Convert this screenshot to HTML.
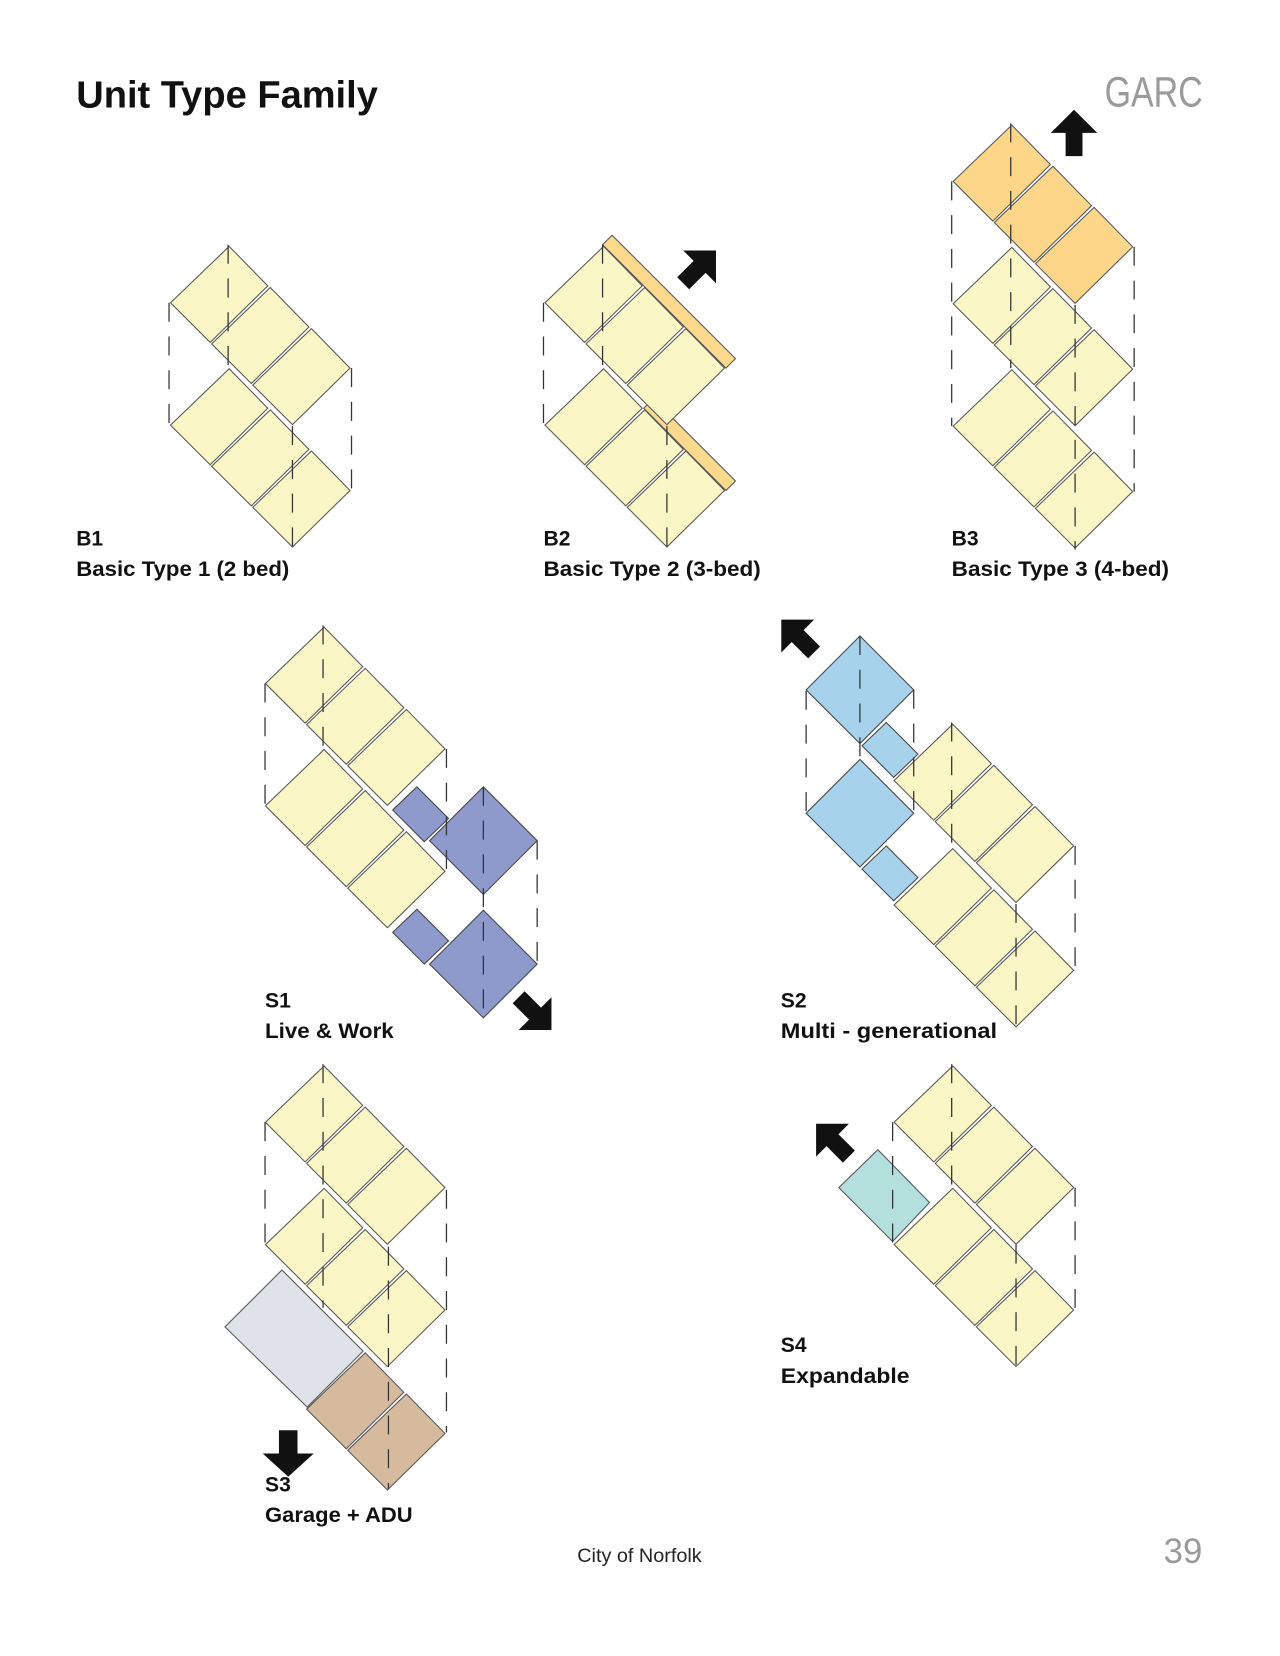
<!DOCTYPE html>
<html><head><meta charset="utf-8"><style>
html,body{margin:0;padding:0;background:#fff;}
svg{display:block;}
text{font-family:"Liberation Sans",sans-serif;}
</style></head><body>
<svg width="1280" height="1656" viewBox="0 0 1213 1570" xmlns="http://www.w3.org/2000/svg">
<defs>
<polygon id="r" points="1,1.6 37.6,39 -17,92.6 -54.6,55" stroke="#555" stroke-width="1"/>
<polygon id="big" points="0,0 51,51 0,102 -51,51" stroke="#444" stroke-width="1"/>
<polygon id="sm" points="0,0 30,30 7,52 -23,22" stroke="#444" stroke-width="1"/>
<polygon id="arr" points="0,-22 22,0 8,0 8,22 -8,22 -8,0 -22,0" fill="#111"/>
</defs>

<rect width="1213" height="1570" fill="#fff"/>

<text x="72" y="102" font-size="36" font-weight="bold" fill="#111" textLength="286" lengthAdjust="spacingAndGlyphs">Unit Type Family</text>
<text x="1047" y="101" font-size="40" fill="#9a9a9a" textLength="93" lengthAdjust="spacingAndGlyphs">GARC</text>

<!-- B1 -->
<g fill="#FBF6C6">
<use href="#r" x="216" y="348"/><use href="#r" x="255" y="387"/><use href="#r" x="294" y="426"/>
<use href="#r" x="216" y="232"/><use href="#r" x="255" y="271"/><use href="#r" x="294" y="310"/>
</g>
<g stroke="#333" stroke-width="1.2" stroke-dasharray="18,14" fill="none">
<line x1="160" y1="287" x2="160" y2="403"/><line x1="216" y1="232" x2="216" y2="348"/>
<line x1="333" y1="349" x2="333" y2="466"/><line x1="277" y1="404" x2="277" y2="520"/>
</g>

<!-- B2 -->
<g fill="#FDD98E" stroke="#555" stroke-width="1">
<polygon points="610,387 688,465 697,456 619,378"/>
</g>
<g fill="#FBF6C6">
<use href="#r" x="571" y="348"/><use href="#r" x="610" y="387"/><use href="#r" x="649" y="426"/>
</g>
<g fill="#FDD98E" stroke="#555" stroke-width="1">
<polygon points="571,232 688,349 697,340 580,223"/>
</g>
<g fill="#FBF6C6">
<use href="#r" x="571" y="232"/><use href="#r" x="610" y="271"/><use href="#r" x="649" y="310"/>
</g>
<g stroke="#333" stroke-width="1.2" stroke-dasharray="18,14" fill="none">
<line x1="515" y1="287" x2="515" y2="403"/><line x1="571" y1="232" x2="571" y2="348"/>
<line x1="632" y1="404" x2="632" y2="520"/>
</g>
<use href="#arr" transform="translate(663,253) rotate(45)"/>

<!-- B3 -->
<g fill="#FBF6C6">
<use href="#r" x="958" y="349"/><use href="#r" x="997" y="388"/><use href="#r" x="1036" y="427"/>
<use href="#r" x="958" y="233"/><use href="#r" x="997" y="272"/><use href="#r" x="1036" y="311"/>
</g>
<g fill="#FDD68A">
<use href="#r" x="958" y="117"/><use href="#r" x="997" y="156"/><use href="#r" x="1036" y="195"/>
</g>
<g stroke="#333" stroke-width="1.2" stroke-dasharray="18,14" fill="none">
<line x1="902" y1="172" x2="902" y2="404"/><line x1="958" y1="117" x2="958" y2="349"/>
<line x1="1075" y1="234" x2="1075" y2="466"/><line x1="1019" y1="289" x2="1019" y2="521"/>
</g>
<use href="#arr" transform="translate(1018,126)"/>

<g font-size="20" font-weight="bold" fill="#111">
<text x="72" y="517">B1</text><text x="72" y="546" textLength="202" lengthAdjust="spacingAndGlyphs">Basic Type 1 (2 bed)</text>
<text x="515" y="517">B2</text><text x="515" y="546" textLength="206" lengthAdjust="spacingAndGlyphs">Basic Type 2 (3-bed)</text>
<text x="902" y="517">B3</text><text x="902" y="546" textLength="206" lengthAdjust="spacingAndGlyphs">Basic Type 3 (4-bed)</text>
</g>

<!-- S1 -->
<g fill="#FBF6C6">
<use href="#r" x="306" y="709"/><use href="#r" x="345" y="748"/><use href="#r" x="384" y="787"/>
</g>
<g fill="#8E9ACB">
<use href="#big" x="458" y="746"/><use href="#big" x="458" y="863"/>
<use href="#sm" x="395" y="746"/><use href="#sm" x="395" y="862"/>
</g>
<g fill="#FBF6C6">
<use href="#r" x="306" y="593"/><use href="#r" x="345" y="632"/><use href="#r" x="384" y="671"/>
</g>
<g stroke="#333" stroke-width="1.2" stroke-dasharray="18,14" fill="none">
<line x1="251" y1="648" x2="251" y2="765"/><line x1="306" y1="593" x2="306" y2="709"/>
<line x1="423" y1="710" x2="423" y2="826"/><line x1="509" y1="797" x2="509" y2="914"/>
<line x1="458" y1="746" x2="458" y2="965"/>
</g>
<use href="#arr" transform="translate(507,961) rotate(135)"/>

<!-- S2 -->
<g fill="#FBF6C6">
<use href="#r" x="902" y="803"/><use href="#r" x="941" y="842"/><use href="#r" x="980" y="881"/>
<use href="#r" x="902" y="685"/><use href="#r" x="941" y="724"/><use href="#r" x="980" y="763"/>
</g>
<g fill="#A6D2EC">
<use href="#big" x="815" y="720"/><use href="#sm" x="840" y="802"/>
<use href="#big" x="815" y="603"/><use href="#sm" x="840" y="685"/>
</g>
<g stroke="#333" stroke-width="1.2" stroke-dasharray="18,14" fill="none">
<line x1="764" y1="655" x2="764" y2="772"/><line x1="815" y1="603" x2="815" y2="720"/>
<line x1="866" y1="654" x2="866" y2="771"/><line x1="902" y1="685" x2="902" y2="803"/>
<line x1="1019" y1="802" x2="1019" y2="920"/><line x1="963" y1="857" x2="963" y2="975"/>
</g>
<use href="#arr" transform="translate(756,603) rotate(-45)"/>

<g font-size="20" font-weight="bold" fill="#111">
<text x="251" y="955">S1</text><text x="251" y="984" textLength="122" lengthAdjust="spacingAndGlyphs">Live &amp; Work</text>
<text x="740" y="955">S2</text><text x="740" y="984" textLength="205" lengthAdjust="spacingAndGlyphs">Multi - generational</text>
</g>

<!-- S3 -->
<g fill="#FBF6C6">
<use href="#r" x="306" y="1125"/><use href="#r" x="345" y="1164"/><use href="#r" x="384" y="1203"/>
<use href="#r" x="306" y="1009"/><use href="#r" x="345" y="1048"/><use href="#r" x="384" y="1087"/>
</g>
<polygon points="267,1204 213,1258 291,1334 344,1281" fill="#DFE2E8" stroke="#555" stroke-width="1"/>
<g fill="#D5BA9E">
<use href="#r" x="345" y="1281"/><use href="#r" x="384" y="1320"/>
</g>
<g stroke="#333" stroke-width="1.2" stroke-dasharray="18,14" fill="none">
<line x1="251" y1="1064" x2="251" y2="1180"/><line x1="306" y1="1009" x2="306" y2="1240"/>
<line x1="423" y1="1128" x2="423" y2="1358"/><line x1="368" y1="1182" x2="368" y2="1412"/>
</g>
<use href="#arr" transform="translate(273,1378) rotate(180) scale(1.1,1)"/>

<!-- S4 -->
<g fill="#FBF6C6">
<use href="#r" x="902" y="1125"/><use href="#r" x="941" y="1164"/><use href="#r" x="980" y="1203"/>
<use href="#r" x="902" y="1009"/><use href="#r" x="941" y="1048"/><use href="#r" x="980" y="1087"/>
</g>
<polygon points="832,1090 881,1140 846,1177 795,1126" fill="#B3E0DC" stroke="#555" stroke-width="1"/>
<g stroke="#333" stroke-width="1.2" stroke-dasharray="18,14" fill="none">
<line x1="846" y1="1064" x2="846" y2="1178"/><line x1="902" y1="1009" x2="902" y2="1125"/>
<line x1="1019" y1="1126" x2="1019" y2="1243"/><line x1="963" y1="1180" x2="963" y2="1297"/>
</g>
<use href="#arr" transform="translate(789,1081) rotate(-45)"/>

<g font-size="20" font-weight="bold" fill="#111">
<text x="251" y="1414">S3</text><text x="251" y="1443" textLength="140" lengthAdjust="spacingAndGlyphs">Garage + ADU</text>
<text x="740" y="1282">S4</text><text x="740" y="1311" textLength="122" lengthAdjust="spacingAndGlyphs">Expandable</text>
</g>

<text x="547" y="1481" font-size="18" fill="#222" textLength="118" lengthAdjust="spacingAndGlyphs">City of Norfolk</text>
<text x="1103" y="1482" font-size="33" fill="#9a9a9a">39</text>
</svg>
</body></html>
